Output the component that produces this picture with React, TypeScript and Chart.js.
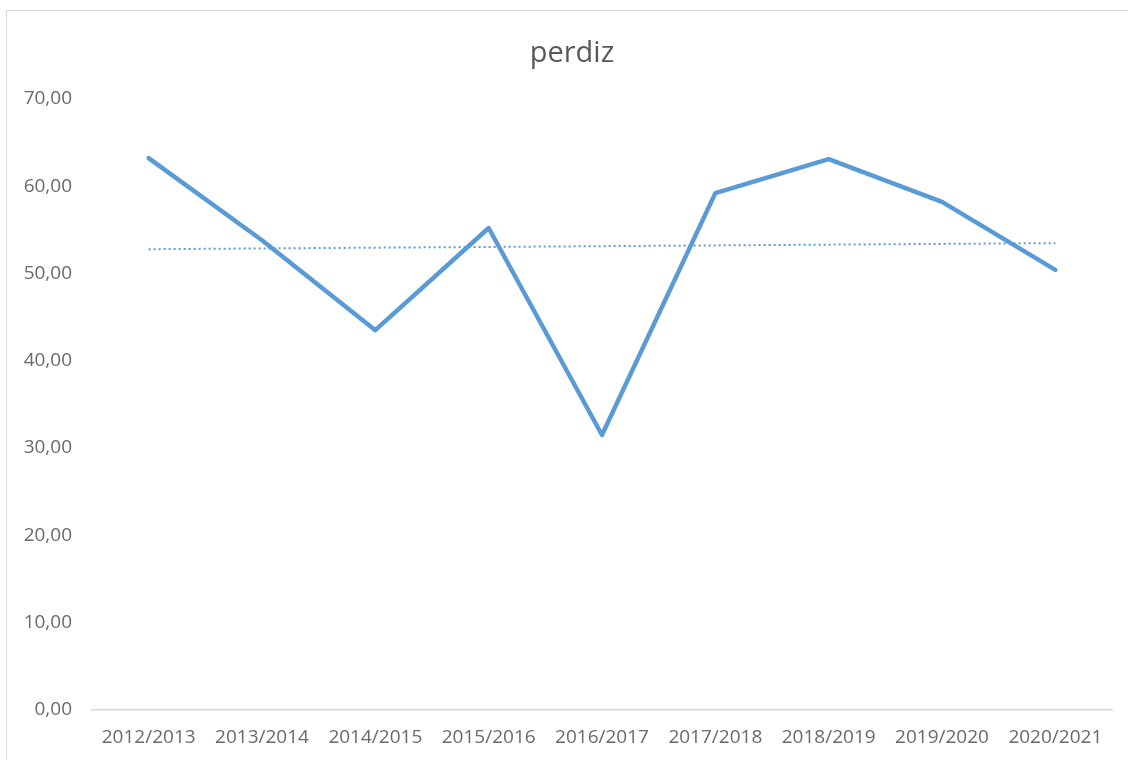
import React, { useEffect, useRef } from "react";
import { Chart, registerables } from "chart.js";

Chart.register(...registerables);

const categories = [
  "2012/2013",
  "2013/2014",
  "2014/2015",
  "2015/2016",
  "2016/2017",
  "2017/2018",
  "2018/2019",
  "2019/2020",
  "2020/2021",
];
const perdizValues = [63.2, 53.8, 43.5, 55.2, 31.5, 59.2, 63.1, 58.2, 50.4];
const yTicks = [0, 10, 20, 30, 40, 50, 60, 70];

function linearTrend(values: number[]): number[] {
  const n = values.length;
  let sx = 0, sy = 0, sxy = 0, sxx = 0;
  values.forEach((v, i) => {
    const x = i + 1;
    sx += x; sy += v; sxy += x * v; sxx += x * x;
  });
  const slope = (n * sxy - sx * sy) / (n * sxx - sx * sx);
  const intercept = (sy - slope * sx) / n;
  return values.map((_, i) => intercept + slope * (i + 1));
}

const FONT = "'Open Sans', 'Liberation Sans', sans-serif";
const TEXT = "#6a6a6a";
const BLUE = "#5b9bd5";

export default function App() {
  const ref = useRef<HTMLCanvasElement | null>(null);

  useEffect(() => {
    if (!ref.current) return;
    const chart = new Chart(ref.current, {
      type: "line",
      data: {
        labels: categories,
        datasets: [
          {
            label: "perdiz",
            data: perdizValues,
            borderColor: BLUE,
            borderWidth: 4.5,
            pointRadius: 0,
            tension: 0,
            borderJoinStyle: "round",
            borderCapStyle: "round",
          },
          {
            label: "Lineal (perdiz)",
            data: linearTrend(perdizValues),
            borderColor: BLUE,
            borderWidth: 2,
            borderDash: [2, 3],
            pointRadius: 0,
            tension: 0,
          },
        ],
      },
      options: {
        animation: false,
        responsive: false,
        maintainAspectRatio: false,
        layout: { padding: { left: 0, right: 10, top: 0, bottom: 0 } },
        plugins: {
          legend: { display: false },
          tooltip: { enabled: false },
          title: {
            display: true,
            text: "perdiz",
            color: "#595959",
            font: { family: FONT, size: 29, weight: "normal" },
            padding: { top: 25, bottom: 28 },
          },
        },
        scales: {
          x: {
            offset: true,
            grid: { display: false, drawTicks: false },
            border: { display: true, color: "#d9d9d9", width: 1.5 },
            ticks: {
              color: TEXT,
              font: { family: FONT, size: 19 },
              padding: 16,
              maxRotation: 0,
              autoSkip: false,
            },
            afterFit: (scale: any) => {
              scale.height = 61;
            },
          },
          y: {
            min: 0,
            max: 70,
            afterBuildTicks: (scale: any) => {
              scale.ticks = yTicks.map((v) => ({ value: v }));
            },
            grid: { display: false, drawTicks: false },
            border: { display: false },
            ticks: {
              color: TEXT,
              font: { family: FONT, size: 19 },
              padding: 20,
              callback: (v: any) => Number(v).toFixed(2).replace(".", ","),
            },
            afterFit: (scale: any) => {
              scale.width = 85;
            },
          },
          spacer: {
            type: "linear",
            position: "right",
            display: true,
            grid: { display: false, drawTicks: false },
            border: { display: false },
            ticks: { display: false },
            afterFit: (scale: any) => {
              scale.width = 25;
            },
          },
        },
      },
    });
    return () => chart.destroy();
  }, []);

  return (
    <div
      style={{
        position: "fixed",
        left: 6,
        top: 10,
        width: 1140,
        height: 760,
        border: "1.5px solid #d9d9d9",
        background: "#fff",
      }}
    >
      <canvas ref={ref} width={1140} height={760} style={{ display: "block" }} />
    </div>
  );
}
